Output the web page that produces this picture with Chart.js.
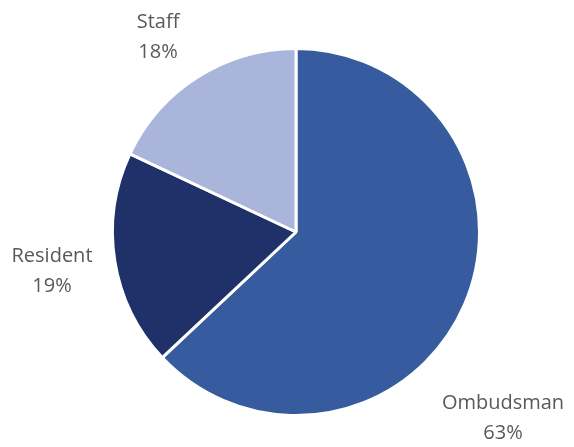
<!DOCTYPE html>
<html>
<head>
<meta charset="utf-8">
<script src="https://cdn.jsdelivr.net/npm/chart.js@4/dist/chart.umd.min.js"></script>
<style>
  html, body { margin: 0; padding: 0; background: #fff; }
  #pie { display: block; }
</style>
</head>
<body>
<canvas id="pie" width="574" height="447"></canvas>
<script>
const categories = ['Ombudsman', 'Resident', 'Staff'];
const shares = [63, 19, 18];
const sliceColors = ['#365C9F', '#203069', '#A9B5DA'];

// label anchors (centre of the two-line label), in canvas pixels
const labelAnchors = [[503, 418], [52, 271], [158, 37]];

const outsideLabels = {
    id: 'outsideLabels',
    afterDraw(chart) {
        const ctx = chart.ctx;
        ctx.save();
        ctx.fillStyle = '#595959';
        ctx.font = '20px "Open Sans", sans-serif';
        ctx.textAlign = 'center';
        ctx.textBaseline = 'middle';
        chart.data.labels.forEach((name, i) => {
            const [x, y] = labelAnchors[i];
            ctx.fillText(name, x, y - 15);
            ctx.fillText(chart.data.datasets[0].data[i] + '%', x, y + 15);
        });
        ctx.restore();
    }
};

new Chart(document.getElementById('pie'), {
    type: 'pie',
    data: {
        labels: categories,
        datasets: [{
            data: shares,
            backgroundColor: sliceColors,
            borderColor: '#ffffff',
            borderWidth: 3
        }]
    },
    options: {
        responsive: false,
        animation: false,
        layout: { padding: { top: 47, bottom: 30, left: 18, right: 0 } },
        plugins: {
            legend: { display: false },
            tooltip: { enabled: false }
        }
    },
    plugins: [outsideLabels]
});
</script>
</body>
</html>
